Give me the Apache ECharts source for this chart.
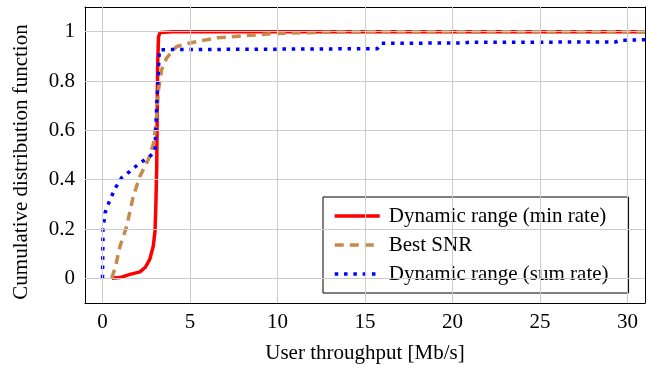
<!DOCTYPE html>
<html>
<head>
<meta charset="utf-8">
<script src="https://cdn.jsdelivr.net/npm/echarts@6/dist/echarts.min.js"></script>
<style>
  html, body { margin: 0; padding: 0; background: #fff; }
  #chart { width: 657px; height: 371px; }
</style>
</head>
<body>
<div id="chart"></div>
<script>
const xTicks = [0, 5, 10, 15, 20, 25, 30]
const yTicks = [0, 0.2, 0.4, 0.6, 0.8, 1]

const minRateX = [0.53, 1.0, 1.57, 2.14, 2.45, 2.7, 2.9, 3.0, 3.05, 3.1, 3.15, 3.2, 3.3, 4, 31]
const minRateY = [0, 0.003, 0.016, 0.026, 0.045, 0.077, 0.13, 0.19, 0.3, 0.455, 0.86, 0.98, 0.997, 1, 1]

const snrX = [0.53, 0.75, 1.0, 1.38, 1.76, 2.14, 2.62, 2.9, 3.05, 3.2, 3.38, 3.67, 4.24, 5.0, 5.57, 6.52, 8.42, 9.94, 12.2, 15, 31]
const snrY = [0, 0.05, 0.13, 0.21, 0.333, 0.414, 0.482, 0.543, 0.62, 0.765, 0.846, 0.894, 0.94, 0.954, 0.962, 0.975, 0.985, 0.993, 0.997, 1, 1]

const sumRateX = [0, 0.03, 0.15, 0.43, 0.8, 1.1, 1.57, 2.14, 2.62, 3.0, 3.1, 3.25, 15.7, 15.9, 20.5, 21, 29.3, 29.6, 31]
const sumRateY = [0, 0.2, 0.266, 0.32, 0.374, 0.408, 0.434, 0.468, 0.489, 0.515, 0.7, 0.927, 0.931, 0.953, 0.954, 0.957, 0.958, 0.965, 0.967]

const pairs = function (xs, ys) {
  return xs.map((x, i) => [x, ys[i]])
}

const font = 'Liberation Serif'
const fontSize = 21
const gridColor = '#cccccc'

const chart = echarts.init(document.getElementById('chart'))

const lineSeries = function (name, xs, ys, color, type) {
  return {
    name: name,
    type: 'line',
    data: pairs(xs, ys),
    symbol: 'none',
    smooth: false,
    lineStyle: {color: color, width: 3.5, type: type, cap: 'butt', join: 'round'},
    itemStyle: {color: color},
    z: 3,
  }
}

chart.setOption({
  animation: false,
  textStyle: {fontFamily: font},
  grid: {left: 85, right: 12, top: 7, bottom: 68, show: false},
  legend: {
    orient: 'vertical',
    left: 323,
    top: 197,
    padding: [8, 20, 8, 10],
    itemWidth: 45,
    itemHeight: 14,
    itemGap: 7,
    itemStyle: {opacity: 0},
    lineStyle: {width: 3.5},
    backgroundColor: '#fff',
    borderColor: '#000',
    borderWidth: 1,
    borderRadius: 0,
    textStyle: {fontFamily: font, fontSize: fontSize, color: '#000', lineHeight: 22, padding: [0, 0, 0, 4]},
    data: ['Dynamic range (min rate)', 'Best SNR', 'Dynamic range (sum rate)'],
  },
  xAxis: [{
    type: 'value',
    min: -1,
    max: 31,
    name: 'User throughput [Mb/s]',
    nameLocation: 'middle',
    nameGap: 40,
    nameTextStyle: {fontFamily: font, fontSize: fontSize, color: '#000'},
    axisLine: {show: true, onZero: false, lineStyle: {color: '#000', width: 1}},
    axisTick: {show: true, inside: true, length: 4, customValues: xTicks, lineStyle: {color: '#555'}},
    axisLabel: {customValues: xTicks, margin: 9, fontFamily: font, fontSize: fontSize, color: '#000'},
    splitLine: {show: false},
  }, {
    type: 'value',
    min: -1,
    max: 31,
    position: 'top',
    axisLine: {show: true, onZero: false, lineStyle: {color: '#000', width: 1}},
    axisTick: {show: true, inside: true, length: 4, customValues: xTicks, lineStyle: {color: '#555'}},
    axisLabel: {show: false},
    splitLine: {show: false},
  }],
  yAxis: [{
    type: 'value',
    min: -0.1,
    max: 1.1,
    name: 'Cumulative distribution function',
    nameLocation: 'middle',
    nameGap: 53,
    nameTextStyle: {fontFamily: font, fontSize: fontSize, color: '#000', padding: [0, 14, 0, 0]},
    axisLine: {show: true, onZero: false, lineStyle: {color: '#000', width: 1}},
    axisTick: {show: true, inside: true, length: 4, customValues: yTicks, lineStyle: {color: '#555'}},
    axisLabel: {customValues: yTicks, margin: 10, fontFamily: font, fontSize: fontSize, color: '#000',
      formatter: v => String(Math.round(v * 10) / 10)},
    splitLine: {show: false},
  }, {
    type: 'value',
    min: -0.1,
    max: 1.1,
    position: 'right',
    axisLine: {show: true, onZero: false, lineStyle: {color: '#000', width: 1}},
    axisTick: {show: true, inside: true, length: 4, customValues: yTicks, lineStyle: {color: '#555'}},
    axisLabel: {show: false},
    splitLine: {show: false},
  }],
  series: [
    // grid lines at the tick values
    {
      type: 'line',
      data: [],
      silent: true,
      z: 1,
      markLine: {
        silent: true,
        symbol: 'none',
        label: {show: false},
        animation: false,
        lineStyle: {color: gridColor, width: 1, type: 'solid'},
        data: xTicks.map(v => ({xAxis: v})).concat(yTicks.map(v => ({yAxis: v}))),
      },
    },
    lineSeries('Dynamic range (min rate)', minRateX, minRateY, '#ff0000', 'solid'),
    lineSeries('Best SNR', snrX, snrY, '#c8894c', [9, 6]),
    lineSeries('Dynamic range (sum rate)', sumRateX, sumRateY, '#0000ff', [3.5, 5.8]),
  ],
})
</script>
</body>
</html>
